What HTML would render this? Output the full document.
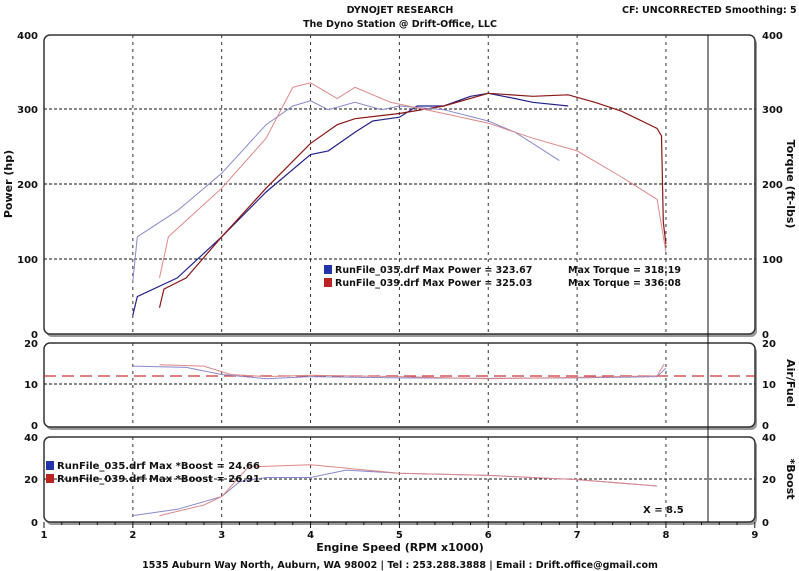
<!DOCTYPE html><html><head><style>body{margin:0;background:#fff}svg{display:block}text{font-family:"DejaVu Sans","Liberation Sans",sans-serif;font-weight:bold;fill:#111}</style></head><body>
<svg id="s" width="799" height="571" viewBox="0 0 799 571">
<text x="400" y="13" font-size="9.5" text-anchor="middle">DYNOJET RESEARCH</text>
<text x="400" y="27" font-size="9.5" text-anchor="middle">The Dyno Station @ Drift-Office, LLC</text>
<text x="622" y="13" font-size="9.5">CF: UNCORRECTED  Smoothing: 5</text>
<g id="g"></g>
<text x="400" y="551" font-size="11" text-anchor="middle">Engine Speed (RPM x1000)</text>
<text x="400" y="568" font-size="9.5" text-anchor="middle">1535 Auburn Way North, Auburn, WA 98002 | Tel : 253.288.3888 | Email : Drift.office@gmail.com</text>
<text transform="translate(12,184) rotate(-90)" font-size="11" text-anchor="middle">Power (hp)</text>
<text transform="translate(787,184) rotate(90)" font-size="11" text-anchor="middle">Torque (ft-lbs)</text>
<text transform="translate(787,383) rotate(90)" font-size="11" text-anchor="middle">Air/Fuel</text>
<text transform="translate(787,479) rotate(90)" font-size="11" text-anchor="middle">*Boost</text>
<rect x="324" y="265" width="8" height="9" fill="#2233aa"/><rect x="324" y="278" width="8" height="9" fill="#bb2222"/>
<text x="335" y="273" font-size="9.5">RunFile_035.drf Max Power = 323.67</text><text x="568" y="273" font-size="9.5">Max Torque = 318.19</text>
<text x="335" y="286" font-size="9.5">RunFile_039.drf Max Power = 325.03</text><text x="568" y="286" font-size="9.5">Max Torque = 336.08</text>
<rect x="46" y="461" width="8" height="9" fill="#2233aa"/><rect x="46" y="474" width="8" height="9" fill="#bb2222"/>
<text x="57" y="469" font-size="10">RunFile_035.drf Max *Boost = 24.66</text>
<text x="57" y="482" font-size="10">RunFile_039.drf Max *Boost = 26.91</text>
<text x="643" y="513" font-size="10">X = 8.5</text>
</svg>
<script>
var g=document.getElementById('g'),h='';
function X(r){return 44+(r-1)*88.85}
function panel(t,b,vals,labs){
 h+='<rect x="46" y="'+(t+3)+'" width="711" height="'+(b-t)+'" rx="6" fill="#999"/>';
 h+='<rect x="44" y="'+t+'" width="711" height="'+(b-t)+'" rx="6" fill="#fff" stroke="#333" stroke-width="1.5"/>';
 for(var r=2;r<=8;r++)h+='<line x1="'+X(r)+'" y1="'+t+'" x2="'+X(r)+'" y2="'+b+'" stroke="#333" stroke-dasharray="3,4"/>';
 labs.forEach(function(l){h+='<text x="38" y="'+(l[0]+4)+'" font-size="10" text-anchor="end">'+l[1]+'</text><text x="762" y="'+(l[0]+4)+'" font-size="10">'+l[1]+'</text>';});
 vals.forEach(function(y){h+='<line x1="44" y1="'+y+'" x2="755" y2="'+y+'" stroke="#111" stroke-dasharray="3,2"/>';});
}
panel(35,334,[109,184,259],[[35,400],[109,300],[184,200],[259,100],[334,0]]);
panel(343,427,[384],[[343,20],[384,10],[425,0]]);
panel(437,522,[479],[[437,40],[479,20],[522,0]]);
for(var i=0;i<=40;i++){var x=44+i*17.77;h+='<line x1="'+x+'" y1="522" x2="'+x+'" y2="'+(i%5==0?528:525)+'" stroke="#111"/>';}
for(var r=1;r<=9;r++)h+='<text x="'+X(r)+'" y="538" font-size="10" text-anchor="middle">'+r+'</text>';
h+='<line x1="708" y1="35" x2="708" y2="522" stroke="#111"/>';
h+='<line x1="44" y1="376" x2="755" y2="376" stroke="#c33" stroke-width="1.3" stroke-dasharray="12,6"/>';
function c(pts,y0,sc,col,w){h+='<polyline fill="none" stroke="'+col+'" stroke-width="'+w+'" points="'+pts.map(function(p){return X(p[0]).toFixed(1)+','+(y0-p[1]*sc).toFixed(1)}).join(' ')+'"/>';}
var P=334,S=0.7475;
c([[2,25],[2.05,50],[2.5,75],[3,130],[3.5,190],[4,240],[4.2,245],[4.5,270],[4.7,285],[5,290],[5.2,305],[5.5,305],[5.8,318],[6,322],[6.3,315],[6.5,310],[6.9,305]],P,S,'#22228a',1.2);
c([[2.3,35],[2.35,60],[2.6,75],[3,130],[3.5,195],[4,255],[4.3,280],[4.5,288],[5,295],[5.5,305],[6,322],[6.5,318],[6.9,320],[7.2,310],[7.5,298],[7.9,275],[7.95,265],[7.97,150],[8,120]],P,S,'#8a1515',1.2);
c([[2,70],[2.05,130],[2.5,165],[3,215],[3.5,280],[3.8,305],[4,312],[4.2,300],[4.5,310],[4.8,300],[5,305],[5.5,300],[6,285],[6.3,270],[6.5,255],[6.8,232]],P,S,'#8888cc',1);
c([[2.3,75],[2.4,130],[3,195],[3.5,262],[3.8,330],[4,336],[4.3,315],[4.5,330],[4.9,310],[5.5,295],[6,282],[6.5,262],[7,245],[7.5,210],[7.9,180],[8,110]],P,S,'#dd8888',1);
c([[2,14.5],[2.6,14.2],[3,12.5],[3.5,11.5],[4,12],[5,11.7],[6,11.6],[7,11.7],[7.9,12],[8,14]],427,4.2,'#8888cc',1);
c([[2.3,14.8],[2.8,14.5],[3.1,12.5],[3.5,12],[4,12.3],[5,12],[6,11.5],[7,11.8],[7.9,12.2],[7.98,15]],427,4.2,'#dd8888',1);
c([[2,3],[2.5,6],[3,12],[3.2,19],[3.5,21],[4,21],[4.4,24.5],[5,23],[6,22],[7,20],[7.9,17]],522,2.12,'#8888cc',1);
c([[2.3,3],[2.8,8],[3,12],[3.3,26],[4,27],[4.5,25],[5,23],[6,22],[7,20],[7.9,17]],522,2.12,'#dd8888',1);
g.innerHTML=h;
</script>
</body></html>
